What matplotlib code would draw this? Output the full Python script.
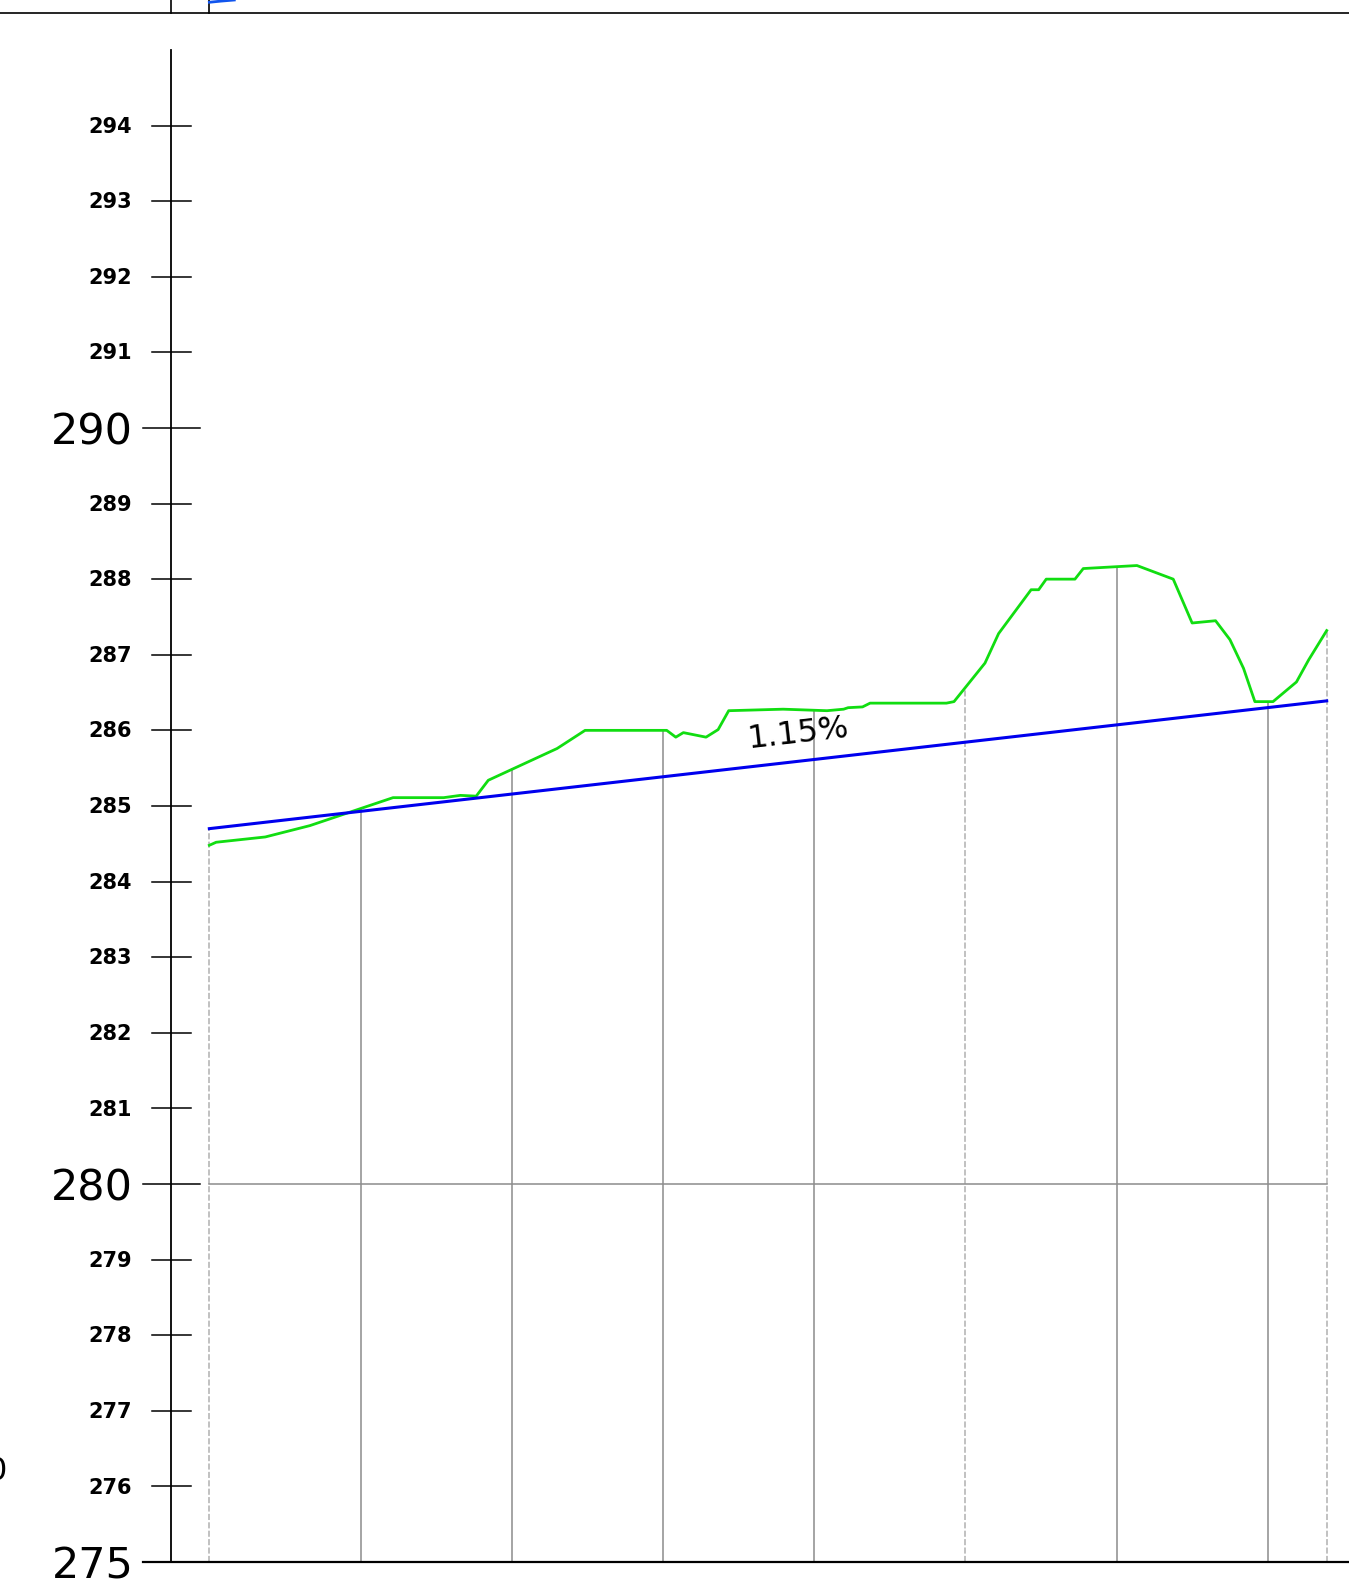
import numpy as np
import matplotlib
matplotlib.use("Agg")
import matplotlib.pyplot as plt

# ----- DATA -------------
# existing ground profile (distance m, elevation m)
ground_dist = [0.0, 0.9, 7.4, 13.3, 24.3, 31.0, 33.2, 35.3, 36.9, 46.0, 49.7,
               60.5, 61.7, 62.7, 65.7, 67.3, 68.7, 75.9, 81.7, 83.9, 84.5,
               86.4, 87.4, 97.5, 98.5, 102.6, 104.4, 108.7, 109.7, 110.7,
               114.5, 115.6, 122.7, 127.5, 130.0, 133.1, 135.0, 136.8, 138.3,
               140.7, 143.8, 145.4, 147.8]
ground_elev = [284.48, 284.52, 284.59, 284.74, 285.11, 285.11, 285.14, 285.13,
               285.34, 285.76, 286.00, 286.00, 285.91, 285.97, 285.91, 286.01,
               286.26, 286.28, 286.26, 286.28, 286.30, 286.31, 286.36, 286.36,
               286.38, 286.89, 287.28, 287.86, 287.86, 288.00, 288.00, 288.14,
               288.18, 288.00, 287.42, 287.45, 287.20, 286.82, 286.38, 286.38,
               286.64, 286.93, 287.32]

# design grade line
grade_dist = [0.0, 147.8]
grade_elev = [284.70, 286.39]
grade_label = "1.15%"

# stations (vertical grid)
stations = [0, 20, 40, 60, 80, 100, 120, 140, 147.8]
dotted_stations = [0, 100, 147.8]

# elevation scale
minor_ticks = [276, 277, 278, 279, 281, 282, 283, 284, 285, 286, 287, 288, 289,
               291, 292, 293, 294]
major_ticks = [275, 280, 290]
datum = 275
ref_line = 280

# ----- FIGURE -------------
fig = plt.figure(figsize=(13.49, 15.90), dpi=100)
ax = fig.add_axes([0, 0, 1, 1])
ax.set_xlim(-27.69, 150.75)
ax.set_ylim(274.63, 295.66)
ax.axis("off")

axis_x = -5.07

# station verticals up to the higher of ground / grade
for s in stations:
    top = max(np.interp(s, ground_dist, ground_elev), np.interp(s, grade_dist, grade_elev))
    if s in dotted_stations:
        ax.plot([s, s], [datum, top], color="#b0b0b0", lw=1.1, ls=(0, (4, 1.5)), zorder=1)
    else:
        ax.plot([s, s], [datum, top], color="#8c8c8c", lw=1.1, zorder=1)

# 280 reference line
ax.plot([stations[0], stations[-1]], [ref_line, ref_line], color="#8c8c8c", lw=1.1, zorder=1)

# vertical axis + ticks
ax.plot([axis_x, axis_x], [datum, 295.0], color="black", lw=1.3, zorder=3)
for t in minor_ticks:
    ax.plot([-7.58, -2.42], [t, t], color="black", lw=1.1, zorder=3)
    ax.text(-10.2, t - 0.015, str(t), ha="right", va="center", fontsize=15,
            fontweight="bold", family="DejaVu Sans")
for t in major_ticks:
    ax.plot([-8.77, -1.23], [t, t], color="black", lw=1.1, zorder=3)
    ax.text(-10.05, t - 0.055, str(t), ha="right", va="center", fontsize=31,
            family="DejaVu Sans")

# baseline
ax.plot([-8.77, 150.75], [datum, datum], color="black", lw=1.6, zorder=3)

# profile lines
ax.plot(ground_dist, ground_elev, color="#11dd11", lw=2.0, zorder=4)
ax.plot(grade_dist, grade_elev, color="#0000ee", lw=2.2, zorder=5)

# grade label rotated along the grade line
fig.canvas.draw()
p1 = ax.transData.transform((grade_dist[0], grade_elev[0]))
p2 = ax.transData.transform((grade_dist[1], grade_elev[1]))
ang = np.degrees(np.arctan2(p2[1] - p1[1], p2[0] - p1[0]))
ax.text(77.9, 285.95, grade_label, ha="center", va="center", fontsize=23,
        rotation=ang, rotation_mode="anchor", family="DejaVu Sans")

# fragment of the drawing above
ax.plot([-27.69, 150.75], [295.49, 295.49], color="black", lw=1.2)
ax.plot([axis_x, axis_x], [295.49, 295.66], color="black", lw=1.2)
ax.plot([0, 0], [295.49, 295.66], color="black", lw=1.2)
ax.plot([0, 1.5, 3.3], [295.63, 295.645, 295.66], color="#1155ee", lw=2.0)

# cut-off label at left edge (cut in the source drawing as well)
ax.text(-26.76, 276.2, "0", ha="right", va="center", fontsize=23, family="DejaVu Sans")

plt.savefig("out.png", dpi=100)
